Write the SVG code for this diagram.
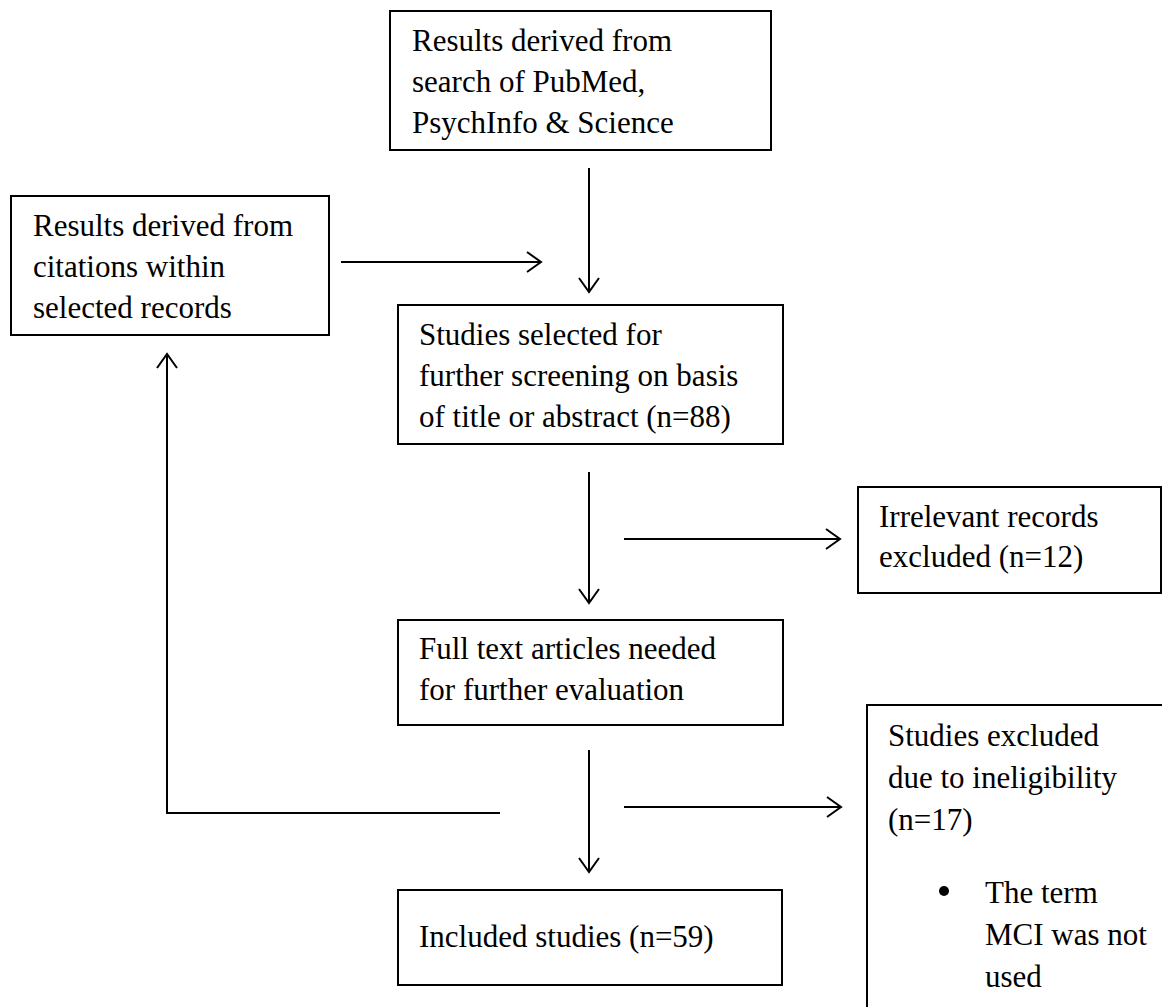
<svg xmlns="http://www.w3.org/2000/svg" width="1162" height="1007" viewBox="0 0 1162 1007">
  <style>
    .box { fill: #fff; stroke: #000; stroke-width: 2; }
    .lbl { font-family: "Liberation Serif", "Times New Roman", serif; font-size: 31px; fill: #000; }
    .wire { fill: none; stroke: #000; stroke-width: 2; }
  </style>
  <defs>
    <marker id="head" markerUnits="userSpaceOnUse" markerWidth="20" markerHeight="24" refX="14" refY="10" orient="auto" overflow="visible">
      <path d="M0,0 L14,10 L0,20" fill="none" stroke="#000" stroke-width="2"/>
    </marker>
  </defs>
  <rect width="1162" height="1007" fill="#fff"/>

  <g id="search">
    <rect class="box" x="390" y="11" width="381" height="139"/>
    <text class="lbl"><tspan x="412" y="51">Results derived from</tspan><tspan x="412" y="92">search of PubMed,</tspan><tspan x="412" y="133">PsychInfo &amp; Science</tspan></text>
  </g>

  <g id="citations">
    <rect class="box" x="11" y="196" width="318" height="139"/>
    <text class="lbl"><tspan x="33" y="236">Results derived from</tspan><tspan x="33" y="277">citations within</tspan><tspan x="33" y="318">selected records</tspan></text>
  </g>

  <g id="screening">
    <rect class="box" x="398" y="305" width="385" height="139"/>
    <text class="lbl"><tspan x="419" y="345">Studies selected for</tspan><tspan x="419" y="386">further screening on basis</tspan><tspan x="419" y="427">of title or abstract (n=88)</tspan></text>
  </g>

  <g id="irrelevant">
    <rect class="box" x="858" y="487" width="303" height="106"/>
    <text class="lbl"><tspan x="879" y="527">Irrelevant records</tspan><tspan x="879" y="567">excluded (n=12)</tspan></text>
  </g>

  <g id="fulltext">
    <rect class="box" x="398" y="620" width="385" height="105"/>
    <text class="lbl"><tspan x="419" y="659">Full text articles needed</tspan><tspan x="419" y="700">for further evaluation</tspan></text>
  </g>

  <g id="ineligible">
    <path class="wire" d="M867,1007 V705 H1162"/>
    <text class="lbl"><tspan x="888" y="746">Studies excluded</tspan><tspan x="888" y="788">due to ineligibility</tspan><tspan x="888" y="830">(n=17)</tspan></text>
    <circle cx="944" cy="891" r="5" fill="#000"/>
    <text class="lbl"><tspan x="985" y="903">The term</tspan><tspan x="985" y="945">MCI was not</tspan><tspan x="985" y="987">used</tspan></text>
  </g>

  <g id="included">
    <rect class="box" x="398" y="890" width="384" height="95"/>
    <text class="lbl" x="419" y="947">Included studies (n=59)</text>
  </g>

  <g id="connectors">
    <line class="wire" x1="589" y1="168" x2="589" y2="292" marker-end="url(#head)"/>
    <line class="wire" x1="341" y1="262" x2="541" y2="262" marker-end="url(#head)"/>
    <line class="wire" x1="589" y1="472" x2="589" y2="603" marker-end="url(#head)"/>
    <line class="wire" x1="624" y1="539" x2="840" y2="539" marker-end="url(#head)"/>
    <line class="wire" x1="589" y1="750" x2="589" y2="872" marker-end="url(#head)"/>
    <line class="wire" x1="624" y1="807" x2="841" y2="807" marker-end="url(#head)"/>
    <polyline class="wire" points="500,813 167,813 167,354" marker-end="url(#head)"/>
  </g>
</svg>
